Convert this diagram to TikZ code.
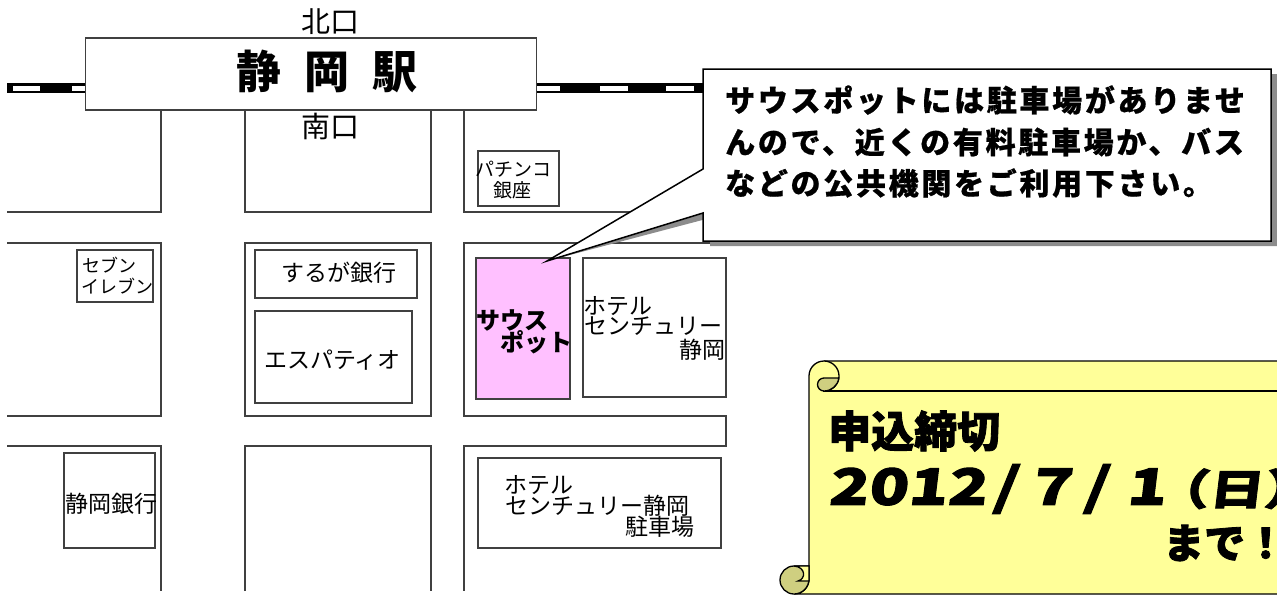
\documentclass[tikz,border=0pt]{standalone}
\usepackage{fontspec}
\setmainfont{Noto Sans CJK JP}
\newfontfamily\popfont{Noto Sans CJK JP}[BoldFeatures={FakeBold=2}]
\newfontfamily\datefont{Noto Sans CJK JP}[BoldFeatures={FakeBold=2,FakeStretch=1.3,FakeSlant=0.12}]
\newfontfamily\noteszfont{Noto Sans CJK JP}[LetterSpace=9,BoldFeatures={FakeBold=0.6}]
\newcommand{\fs}[1]{\fontsize{#1}{#1}\selectfont}
\definecolor{mapline}{HTML}{404040}
\definecolor{pinkfill}{HTML}{FFC0FF}
\definecolor{scrollfill}{HTML}{FFFF99}
\definecolor{curlfill}{HTML}{CFCF80}
\begin{document}
\begin{tikzpicture}[x=1pt,y=-1pt,
  street/.style={draw=mapline,line width=1.5pt},
  shop/.style={draw=mapline,line width=1.5pt},
  lab/.style={inner sep=0pt,anchor=west,font=\fs{23}},
  smalllab/.style={inner sep=0pt,font=\fs{19}},
  curl/.style={draw=black,line width=1.3pt}]
\useasboundingbox (0,0) rectangle (1277,595);
% streets
\draw[street] (7,212)--(161,212)--(161,109);
\draw[street] (245,109)--(245,212)--(431,212)--(431,109);
\draw[street] (464,109)--(464,212)--(710,212);
\draw[street] (7,243)--(161,243)--(161,416)--(7,416);
\draw[street] (245,243) rectangle (431,416);
\draw[street] (710,243)--(464,243)--(464,416)--(726,416)--(726,446)--(464,446)--(464,591);
\draw[street] (7,446)--(161,446)--(161,591);
\draw[street] (245,591)--(245,446)--(431,446)--(431,591);
% buildings
\draw[shop] (478,151) rectangle (559,206);
\draw[shop] (77,250) rectangle (153,302);
\draw[shop] (255,250) rectangle (417,298);
\draw[shop] (255,311) rectangle (412,403);
\draw[shop,fill=pinkfill] (476,258) rectangle (570,399);
\draw[shop] (583,258) rectangle (726,397);
\draw[shop] (64,453) rectangle (155,548);
\draw[shop] (478,458) rectangle (721,548);
% railway
\fill[black] (7,83) rectangle (85,93);
\fill[black] (536,83) rectangle (710,93);
\foreach \a/\b in {13/40,72/85,536/560,600/628,666/694}
  \fill[white] (\a,86) rectangle (\b,91);
% station
\node[draw=mapline,fill=white,line width=1.5pt,minimum width=451pt,minimum height=72pt,inner sep=0pt,anchor=north west] (station) at (84.5,37) {};
\node[inner sep=0pt,font=\fs{45}\bfseries] (stationname) at (327,71) {静\hspace{23pt}岡\hspace{23pt}駅};
\node[inner sep=0pt,font=\fs{29}] (north) at (330,22) {北口};
\node[inner sep=0pt,font=\fs{29}] (south) at (330,126) {南口};
% map labels
\node[smalllab] (l1) at (513,169) {パチンコ};
\node[smalllab] (l2) at (512,190) {銀座};
\node[smalllab,anchor=west,font=\fs{18}] (l3) at (82,265) {セブン};
\node[smalllab,anchor=west,font=\fs{18}] (l4) at (81,286) {イレブン};
\node[lab] (l5) at (281,273) {するが銀行};
\node[lab] (l6) at (264,360) {エスパティオ};
\node[lab,font=\fs{24}\bfseries] (l7) at (476,320) {サウス};
\node[lab,font=\fs{24}\bfseries] (l8) at (500,342) {ポット};
\node[lab] (l9) at (583,306) {ホテル};
\node[lab] (l10) at (584,326) {センチュリー};
\node[lab] (l11) at (679,350) {静岡};
\node[lab] (l12) at (65,504) {静岡銀行};
\node[lab] (l13) at (504,485) {ホテル};
\node[lab] (l14) at (505,506) {センチュリー静岡};
\node[lab] (l15) at (625,527) {駐車場};
% callout
\coordinate (tip) at (547,261);
\fill[black!45,shift={(7,5)}] (703,69)--(1271,69)--(1271,241)--(703,241)--(703,213)--(tip)--(703,169)--cycle;
\draw[black,fill=white,line width=1.5pt,line join=miter] (703,69)--(1271,69)--(1271,241)--(703,241)--(703,213)--(tip)--(703,169)--cycle;
\node[inner sep=0pt,anchor=west,font=\fs{30}\bfseries\noteszfont] (n1) at (725,100) {サウスポットには駐車場がありませ};
\node[inner sep=0pt,anchor=west,font=\fs{30}\bfseries\noteszfont] (n2) at (725,142) {んので、近くの有料駐車場か、バス};
\node[inner sep=0pt,anchor=west,font=\fs{30}\bfseries\noteszfont] (n3) at (725,183) {などの公共機関をご利用下さい。};
% scroll
\path[fill=scrollfill,draw=black,line width=1.3pt] (809,376) arc[start angle=-180,end angle=-90,radius=15] -- (1285,361) -- (1285,594) -- (794,594) arc[start angle=90,end angle=0,radius=15] -- cycle;
\draw[curl] (823,391) -- (1285,391);
\draw[curl,fill=scrollfill] (824,361) arc[start angle=-90,end angle=90,radius=15];
\draw[curl,fill=curlfill] (838,378) -- (824,378) arc[start angle=-90,end angle=-270,radius=6.5] arc[start angle=90,end angle=8,radius=15] -- cycle;
\draw[curl,fill=curlfill] (794,566) arc[start angle=-90,end angle=-270,radius=14] arc[start angle=90,end angle=0,radius=15] -- (809,566) -- cycle;
\draw[curl,fill=scrollfill] (794,566) -- (809,566) -- (809,581) -- (798,581) .. controls (806,579) and (806,567) .. (794,566);
\node[inner sep=0pt,anchor=west,font=\fs{43}\bfseries\popfont] (d1) at (828,431) {申込締切};
\node[inner sep=0pt,anchor=west,font=\fs{50}\bfseries\datefont] (d2) at (828,489) {2012\kern6pt/\kern14pt7\kern12pt/\kern18pt1{\fs{42}\kern-12pt（日）}};
\node[inner sep=0pt,anchor=west,font=\fs{41}\bfseries\popfont] (d3) at (1163,543) {まで！};
\end{tikzpicture}
\end{document}
